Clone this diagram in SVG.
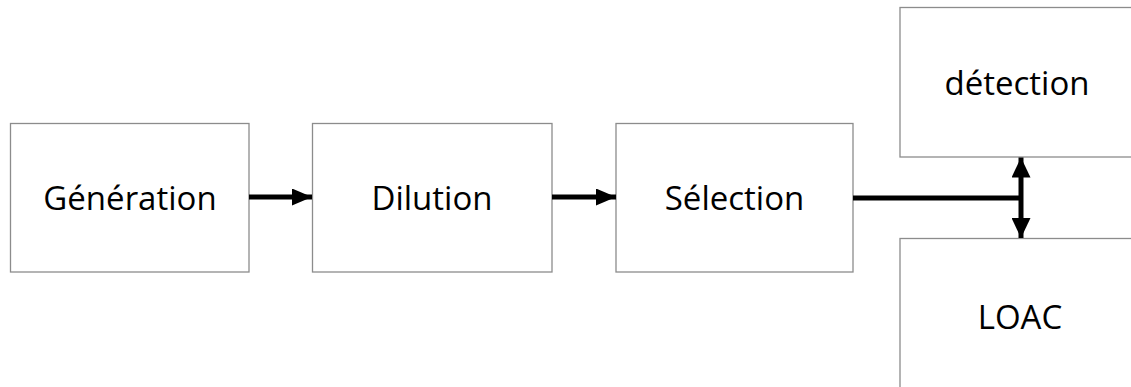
<svg xmlns="http://www.w3.org/2000/svg" width="1131" height="387" viewBox="0 0 1131 387">
<style>
.box{fill:#fff;stroke:#8c8c8c;stroke-width:1.3}
.lbl{font-family:"Open Sans",sans-serif;font-size:33px;fill:#000;text-anchor:middle}
.con{stroke:#000;stroke-width:5;fill:none}
</style>
<defs>
<marker id="ah" markerWidth="20" markerHeight="17" refX="20" refY="8.5" orient="auto-start-reverse" markerUnits="userSpaceOnUse" viewBox="0 0 20 17">
<path d="M0,0 L20,8.5 L0,17 Z" fill="#000"/>
</marker>
<marker id="ahv" markerWidth="20" markerHeight="19" refX="20" refY="9.5" orient="auto-start-reverse" markerUnits="userSpaceOnUse" viewBox="0 0 20 19">
<path d="M0,0 L20,9.5 L0,19 Z" fill="#000"/>
</marker>
</defs>
<rect width="1131" height="387" fill="#fff"/>
<g id="generation"><rect class="box" x="10.5" y="123.5" width="238.5" height="148.5"/><text class="lbl" x="130" y="210">Génération</text></g>
<g id="dilution"><rect class="box" x="312.5" y="123.5" width="239.5" height="148.5"/><text class="lbl" x="432" y="210">Dilution</text></g>
<g id="selection"><rect class="box" x="616" y="123.5" width="237" height="148.5"/><text class="lbl" x="734.5" y="210">Sélection</text></g>
<g id="detection"><rect class="box" x="900" y="7.5" width="240" height="149.5"/><text class="lbl" x="1017" y="95">détection</text></g>
<g id="loac"><rect class="box" x="900" y="238.5" width="240" height="160"/><text class="lbl" x="1020" y="329">LOAC</text></g>
<g id="connectors">
<line class="con" x1="249" y1="197" x2="312" y2="197" marker-end="url(#ah)"/>
<line class="con" x1="552" y1="197" x2="616" y2="197" marker-end="url(#ah)"/>
<line class="con" x1="853" y1="198" x2="1021" y2="198"/>
<line class="con" x1="1021" y1="157.5" x2="1021" y2="238" marker-start="url(#ahv)" marker-end="url(#ahv)"/>
</g>
</svg>
